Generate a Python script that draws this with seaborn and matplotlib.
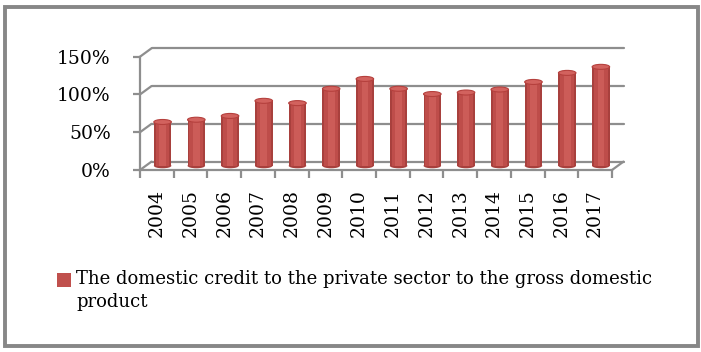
import matplotlib
matplotlib.use("Agg")
import matplotlib.pyplot as plt
import matplotlib.transforms as mtrans
from matplotlib.patches import Ellipse, Rectangle
import seaborn as sns
import pandas as pd

years = ["2004", "2005", "2006", "2007", "2008", "2009", "2010",
         "2011", "2012", "2013", "2014", "2015", "2016", "2017"]
credit_ratio = [0.58, 0.61, 0.66, 0.86, 0.83, 1.02, 1.15,
                1.02, 0.95, 0.97, 1.01, 1.11, 1.23, 1.31]
y_ticks = [0.0, 0.5, 1.0, 1.5]
y_tick_labels = ["0%", "50%", "100%", "150%"]
legend_label = "The domestic credit to the private sector to the gross domestic\nproduct"

df = pd.DataFrame({"year": years, "ratio": credit_ratio})

sns.set_theme(style="white")
plt.rcParams["font.family"] = ["DejaVu Serif"]

W, H = 701, 352
fig = plt.figure(figsize=(W / 100, H / 100), dpi=100)
ax = fig.add_axes([140 / W, (H - 170) / H, 472 / W, 113.3 / H])
ax.set_xlim(-0.5, len(years) - 0.5)
ax.set_ylim(0, 1.5)

GRID = "#8e8e8e"
LW = 1.6
DX, DY = 11.5, 8.4  # back-wall depth offset in pixels
back = ax.transData + mtrans.ScaledTranslation(DX / 100, DY / 100, fig.dpi_scale_trans)
mid = ax.transData + mtrans.ScaledTranslation(DX / 200, DY / 200, fig.dpi_scale_trans)

# back wall gridlines and depth diagonals
for v in y_ticks:
    ax.plot([-0.5, len(years) - 0.5], [v, v], color=GRID, lw=LW,
            transform=back, clip_on=False, zorder=1)
    p0 = ax.transData.transform((-0.5, v))
    ax.plot([p0[0], p0[0] + DX], [p0[1], p0[1] + DY], color=GRID, lw=LW,
            transform=mtrans.IdentityTransform(), clip_on=False, zorder=1)
pr = ax.transData.transform((len(years) - 0.5, 0))
ax.plot([pr[0], pr[0] + DX], [pr[1], pr[1] + DY], color=GRID, lw=LW,
        transform=mtrans.IdentityTransform(), clip_on=False, zorder=1)

# cylinder bars: base, body, highlight
BW = 0.52
layers = [(BW, "#A8403D"), (BW * 0.78, "#BE4D4A"), (BW * 0.38, "#CC5C58")]
for w, c in layers:
    sns.barplot(data=df, x="year", y="ratio", color=c, width=w,
                saturation=1, ax=ax, zorder=3)
for p in ax.patches:
    p.set_transform(mid)
    p.set_clip_on(False)
    p.set_edgecolor("none")

eh = 5.0 / (113.3 / 1.5)
for i, v in enumerate(credit_ratio):
    ax.add_patch(Ellipse((i, 0), BW, eh, transform=mid, facecolor="#A8403D",
                         edgecolor="none", zorder=2.9, clip_on=False))
    ax.add_patch(Ellipse((i, v), BW, eh, transform=mid, facecolor="#D2625E",
                         edgecolor="#B5403D", lw=0.8, zorder=4, clip_on=False))

# front axes
for s in ["top", "right"]:
    ax.spines[s].set_visible(False)
for s in ["left", "bottom"]:
    ax.spines[s].set_color(GRID)
    ax.spines[s].set_linewidth(LW)
    ax.spines[s].set_zorder(5)

ax.set_yticks(y_ticks)
ax.set_yticklabels(y_tick_labels, fontsize=13.5, color="black")
ax.tick_params(axis="y", which="major", direction="out", length=5, width=LW,
               color=GRID, pad=16, left=True)
ax.set_xticks(range(len(years)))
ax.set_xticklabels(years, rotation=90, fontsize=13.5, color="black")
ax.set_xticks([i - 0.5 for i in range(len(years) + 1)], minor=True)
ax.tick_params(axis="x", which="major", length=0, pad=14)
ax.tick_params(axis="x", which="minor", direction="out", length=6, width=LW,
               color=GRID, bottom=True)
ax.set_xlabel("")
ax.set_ylabel("")
ax.grid(False)

# legend
fig.patches.append(Rectangle((57 / W, (H - 287) / H), 14 / W, 14 / H,
                             transform=fig.transFigure, facecolor="#C0504D",
                             edgecolor="none"))
fig.text(76 / W, (H - 270) / H, legend_label, fontsize=13, va="top", ha="left",
         linespacing=1.35, color="black")

# outer frame
fig.patches.append(Rectangle((5 / W, (H - 346) / H), 693 / W, 339.5 / H,
                             transform=fig.transFigure, facecolor="none",
                             edgecolor="#878787", lw=2.8))

fig.savefig("out.png", dpi=100)
